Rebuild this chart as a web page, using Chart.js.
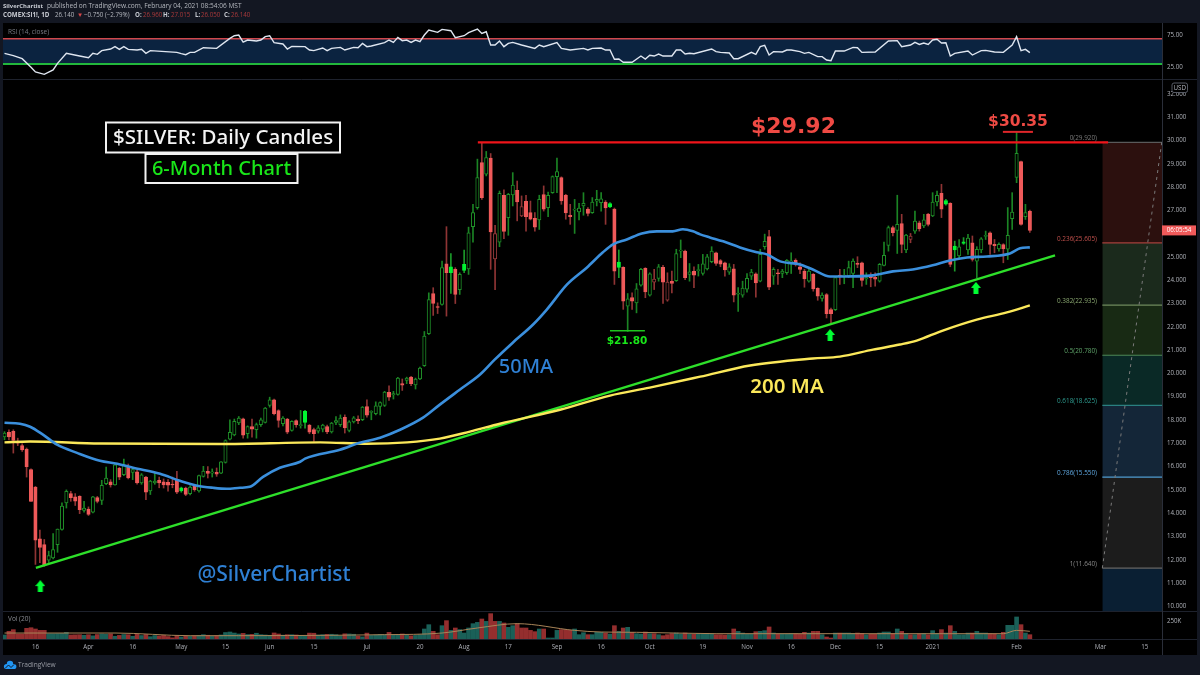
<!DOCTYPE html>
<html><head><meta charset="utf-8"><style>html,body{margin:0;padding:0;background:#131722}canvas{display:block}</style>
<script src="https://cdn.jsdelivr.net/npm/chart.js@4/dist/chart.umd.js"></script></head><body>
<canvas id="c" width="1200" height="675" style="width:1200px;height:675px"></canvas>
<script>
const opens=[17.27,17.47,17.51,17.06,16.9,16.75,15.87,15.12,12.9,12.65,
11.98,12.08,12.65,13.3,14.44,14.84,14.7,14.72,14.12,14.18,
14.04,14.67,14.55,15.27,15.35,15.21,15.92,15.65,16.01,15.75,
15.78,15.3,15.55,14.95,15.3,15.41,15.35,15.32,15.24,15.41,
14.95,15.08,14.84,15.15,14.95,15.58,15.8,15.72,15.75,15.72,
16.18,17.18,17.36,17.87,18.05,17.41,17.72,17.58,17.8,17.9,
18.63,18.87,18.4,17.84,18.04,17.55,17.97,17.76,17.9,17.78,
17.59,17.52,17.61,17.72,17.49,17.9,17.8,18.12,17.55,17.92,
18.04,18.01,18.58,18.33,18.27,18.58,18.63,19.19,19.08,19.1,
19.56,19.7,19.84,19.51,19.76,20.33,21.71,23.43,22.86,22.96,
24.71,24.32,24.47,23.6,24.42,24.49,26.3,27.12,29.05,28.55,
29.24,26.0,25.64,27.65,26.69,27.66,27.86,27.16,27.39,26.9,
26.66,26.59,27.68,27.12,27.76,28.45,28.41,27.65,26.79,27.01,
26.93,27.19,27.05,26.9,27.39,27.33,27.36,27.15,27.05,24.55,
24.55,22.89,23.26,23.03,23.79,24.51,23.36,24.05,24.08,24.55,
23.92,23.95,23.98,25.25,25.25,24.25,24.38,24.41,24.29,24.49,
24.8,25.18,24.84,24.75,24.35,24.49,23.4,23.36,23.62,24.18,
24.28,23.96,25.44,25.87,24.18,24.32,24.29,24.32,24.79,24.86,
24.58,24.39,23.96,24.25,23.65,23.22,23.39,22.74,22.74,24.22,
24.18,24.18,24.29,24.72,24.75,24.06,24.18,24.13,23.96,24.64,
25.5,26.26,26.14,26.43,25.3,25.9,26.11,26.47,26.33,26.84,
26.76,27.36,27.73,27.27,27.3,25.3,25.04,25.58,25.3,25.61,
24.82,25.3,25.88,26.04,25.54,25.35,25.53,25.33,26.64,28.41,
29.09,26.73,26.96];
const highs=[17.5,17.58,17.58,17.22,16.98,16.8,15.9,15.15,13.27,12.87,
12.37,13.12,13.32,14.44,15.0,14.94,14.84,14.75,14.51,14.27,
14.72,14.72,15.41,15.98,15.44,16.11,15.97,16.32,16.11,15.94,
15.84,15.7,15.58,15.41,15.72,15.55,15.47,15.44,15.55,15.8,
15.12,15.12,15.18,15.22,15.64,16.01,16.0,15.9,15.94,16.22,
17.15,18.01,18.04,18.15,18.08,17.75,18.04,17.87,18.08,18.54,
18.98,18.9,18.44,18.15,18.07,17.97,18.01,18.41,18.41,17.81,
17.65,17.76,17.82,17.78,17.9,18.15,18.22,18.22,17.97,18.15,
18.18,18.58,18.87,18.4,18.78,18.78,19.23,19.47,19.23,19.83,
19.76,19.84,19.87,19.8,20.27,21.8,23.46,23.68,23.03,24.82,
26.3,25.14,24.54,24.32,25.3,26.28,27.26,29.2,29.92,29.53,
29.44,26.36,27.83,27.88,27.73,28.62,28.26,27.62,27.65,27.4,
26.9,27.65,28.05,27.79,28.48,29.24,28.44,27.69,27.26,27.47,
27.3,27.76,27.12,27.55,27.86,27.76,27.42,27.33,27.1,25.3,
24.58,23.43,23.46,23.86,24.51,24.54,24.32,24.47,24.68,24.64,
24.32,24.39,25.33,25.73,25.3,24.72,24.58,24.68,25.11,25.11,
25.44,25.21,24.89,24.78,24.71,24.68,23.68,23.96,24.29,24.47,
24.32,25.33,25.98,26.14,24.54,24.47,24.47,24.89,25.18,24.92,
24.75,24.47,24.49,24.29,23.68,23.46,23.43,22.81,24.13,24.47,
24.47,24.82,24.92,25.01,24.78,24.32,24.32,24.32,24.72,25.64,
26.33,26.33,27.65,26.83,25.97,26.01,26.97,26.54,26.83,26.87,
27.76,27.83,28.12,27.47,27.33,25.68,25.75,25.83,25.97,25.9,
25.44,25.83,26.11,26.08,25.75,25.61,25.57,27.12,27.76,30.35,
29.12,27.26,27.015];
const lows=[17.15,17.15,16.58,16.9,16.65,15.55,14.5,11.8,11.87,11.72,
11.86,12.04,12.32,13.27,14.22,14.51,14.33,13.98,14.04,13.9,
14.01,14.44,14.37,15.22,15.12,15.2,15.44,15.61,15.47,15.44,
15.24,15.24,14.58,14.8,15.24,15.09,15.08,14.94,15.09,14.84,
14.9,14.75,14.78,14.94,14.9,15.55,15.51,15.55,15.58,15.7,
16.15,17.15,17.32,17.8,17.22,17.22,17.26,17.22,17.72,17.87,
18.55,18.22,17.69,17.75,17.41,17.52,17.69,17.65,17.65,17.41,
17.08,17.44,17.49,17.41,17.44,17.8,17.72,17.44,17.49,17.87,
17.84,17.97,18.12,18.01,18.22,18.22,18.58,18.84,18.9,19.07,
19.27,19.56,19.47,19.33,19.73,20.3,21.67,22.49,22.57,22.93,
22.46,23.43,23.0,23.39,24.32,24.25,25.64,27.05,27.47,28.48,
24.47,23.6,25.44,25.78,25.93,27.19,26.55,26.73,26.11,26.59,
26.11,26.18,26.97,26.73,27.73,27.76,27.26,26.62,26.4,26.01,
26.59,26.79,26.76,26.87,27.19,26.97,26.4,27.12,23.82,24.11,
22.75,21.8,22.75,22.6,23.75,23.25,23.32,23.6,23.96,23.0,
23.1,23.46,23.95,24.97,24.03,23.96,23.68,24.18,24.22,24.44,
24.75,24.64,24.58,24.18,24.25,23.07,22.66,23.27,23.49,24.03,
23.27,23.93,25.33,23.6,23.82,23.82,24.11,24.25,24.29,24.61,
24.28,23.7,23.92,23.53,23.14,23.1,22.38,22.14,22.7,23.82,
23.85,24.11,23.68,24.54,23.75,23.82,23.72,23.75,23.92,24.61,
25.25,25.9,25.15,25.18,25.18,25.61,26.01,26.11,26.26,26.33,
26.73,27.19,26.69,27.22,24.58,24.39,24.97,25.54,25.11,24.82,
24.11,25.18,25.75,25.11,25.18,25.25,24.75,24.89,26.18,28.19,
26.36,26.61,26.05];
const closes=[17.44,17.27,17.12,17.0,16.72,16.0,14.5,12.84,12.53,11.75,
12.18,12.44,13.32,14.3,14.94,14.67,14.52,14.15,14.22,13.95,
14.7,14.5,15.2,15.51,15.21,16.08,15.55,16.08,15.51,15.87,
15.3,15.65,14.9,15.38,15.38,15.3,15.21,15.2,15.21,14.9,
15.09,14.81,15.12,15.01,15.61,15.81,15.71,15.78,15.67,16.2,
17.12,17.47,17.94,18.08,17.35,17.72,17.61,17.8,18.01,18.51,
18.87,18.27,17.98,18.08,17.48,17.94,17.8,17.8,18.37,17.48,
17.41,17.66,17.78,17.49,17.87,17.97,18.08,17.66,17.92,18.09,
17.97,18.55,18.21,18.37,18.61,18.75,19.2,18.98,19.13,19.8,
19.5,19.8,19.56,19.76,20.23,21.6,23.17,23.0,22.83,24.54,
24.32,24.58,23.39,24.25,24.68,26.04,26.9,28.41,27.55,29.27,
26.07,24.92,27.73,26.1,27.69,28.09,27.36,26.76,26.73,26.62,
26.28,27.47,27.05,27.65,28.45,28.67,27.41,26.89,26.73,27.05,
27.1,27.3,26.87,27.36,27.47,27.5,27.1,27.29,24.39,24.78,
23.1,23.2,23.1,23.63,24.47,23.5,24.28,23.92,24.58,23.92,
23.15,23.86,25.14,25.3,24.11,24.36,24.22,24.44,24.71,25.01,
25.25,24.72,24.69,24.44,24.58,23.36,23.43,23.66,24.08,24.35,
23.89,25.11,25.67,23.7,24.47,24.28,24.39,24.85,24.82,24.69,
24.47,24.06,24.39,23.63,23.32,23.36,22.57,22.56,24.11,24.15,
24.22,24.54,24.82,24.68,23.99,24.11,24.11,24.05,24.68,25.07,
26.26,26.04,26.4,25.54,25.94,25.75,26.54,26.21,26.59,26.4,
27.36,27.65,27.05,27.42,24.68,25.47,25.44,25.65,25.81,24.89,
25.33,25.78,25.93,25.54,25.48,25.54,25.35,25.93,26.93,29.45,
26.4,26.9,26.14];
const brightCandles=[40,68,101,104,137,139,213,215,217];
const hollowRedCandles=[111,117,147,150,205];
const volumesK=[56,107,130,70,70,148,157,139,120,120,74,74,76,78,92,56,58,60,52,60,
44,62,70,66,70,38,50,62,60,38,64,48,62,32,48,42,50,34,16,44,
28,40,36,44,50,60,52,40,46,56,90,97,83,70,78,62,64,80,60,56,
52,84,70,54,60,60,56,48,46,82,80,56,60,64,66,60,44,72,70,66,
40,30,82,50,56,64,60,92,56,56,70,54,44,50,60,139,199,106,60,185,
255,120,153,130,83,153,213,231,278,245,352,245,245,222,162,185,213,153,153,120,
102,139,139,14,14,120,130,130,120,139,60,88,60,60,93,93,83,69,185,106,
153,162,93,74,69,97,74,74,60,46,60,74,83,69,83,69,65,74,69,79,
69,60,60,56,60,139,106,83,65,65,102,106,116,167,83,69,69,69,74,74,
69,93,83,106,106,60,28,14,83,83,83,83,79,83,79,60,65,65,83,97,
97,74,139,106,74,60,60,69,74,60,116,74,130,83,185,106,60,60,83,83,
106,83,83,74,69,60,93,190,190,306,199,83,60];
const volMaIdx=[0,25,42,86,99,107,116,129,135,143,161,187,213,226,229,232];
const volMaK=[83,83,46,60,83,153,213,120,97,93,74,74,74,74,120,107];
const rsiIdx=[0,2,4,6,7,9,11,12,14,17,19,20,21,22,24,25,26,27,28,30,31,32,33,39,40,41,42,43,45,48,51,52,53,54,55,57,58,59,60,61,63,64,65,68,69,70,72,73,74,76,77,79,80,81,82,83,86,87,88,89,90,91,92,93,94,95,96,98,99,101,102,104,105,107,108,109,110,111,112,113,114,115,117,120,121,122,125,126,128,131,132,133,135,136,137,138,139,140,142,144,145,146,147,148,149,151,152,153,154,155,156,160,161,162,164,165,166,169,170,171,172,173,174,176,177,178,180,181,182,184,185,186,187,188,190,192,193,194,197,200,202,203,205,206,207,208,209,210,211,212,213,214,215,218,219,221,222,224,226,228,229,230,231,232];
const rsiVal=[46.9,43.2,38.4,24.8,17.4,13.7,20.6,31.1,46.9,42.6,40,46.9,45.3,51.1,53.7,57.4,53.2,57.4,53.2,52.1,53.2,46.9,51.1,48.4,46.3,44.8,48.4,48.4,55.8,54.7,70.5,74.7,75.8,64.7,67.9,66.3,67.9,73.2,74.7,63.7,61.6,53.7,57.9,57.4,52.1,51.1,55.3,51.1,54.7,56.3,52.1,56.3,55.8,62.6,57.4,58.4,63.7,67.9,64.2,72.1,66.9,67.9,64.2,67.9,65.5,75.8,83.7,80,84.7,82.6,71.6,74.7,79.5,85.3,78.4,81,60,60,66.3,57.4,62.6,64.2,60,54.7,60,57.4,63.7,54.7,52.1,54.7,52.1,54.7,55.3,52.1,52.1,37.4,37.9,32.7,32.7,42.6,37.9,43.7,42.6,45.8,42.6,42.6,52.1,52.1,45.8,46.9,46.3,53.7,49.5,48.4,47.4,38.4,38.4,48.4,45.3,57.4,59.5,44.2,49.5,49,52.1,52.1,49.5,46.9,48.4,41.6,41.6,36.3,35.3,50.5,50.5,56.3,55.8,48.4,49,66.3,66.9,57.4,60,64.2,61,63.2,61,67.9,69,63.2,63.7,42.6,46.9,50.5,44.2,51.1,51.6,49,48.4,60,73.2,51.1,53.2,48];
const ma50Idx=[0,3.5,5.8,8.7,11.9,16.4,21.6,25.5,29.1,35.2,39.7,43.6,47.2,50.3,53.3,55.5,58.5,62.3,66.9,68,75.9,80.4,85,89.5,94.7,98.5,103,107.6,110.9,115,119.6,122.7,127.3,131.8,135.4,137.7,140.8,144.2,147.6,151.2,153.5,155.8,157.4,159.6,162.6,166.4,170.2,172.5,175.5,180,182.9,186.8,189.7,196.5,201,205.5,210,213.9,217.8,222.3,227.5,229.8,232];
const ma50Val=[17.88,17.84,17.71,17.37,16.94,16.59,16.25,16.12,15.95,15.69,15.39,15.18,15.09,15.05,15.09,15.13,15.56,15.95,16.21,16.34,16.72,17.02,17.24,17.58,18.1,18.66,19.3,19.95,20.59,21.32,22.1,22.74,23.82,24.55,25.2,25.54,25.75,26.01,26.1,26.1,26.19,26.1,25.97,25.84,25.67,25.41,25.2,25.11,24.81,24.68,24.46,24.16,24.16,24.21,24.38,24.46,24.64,24.85,24.98,25.02,25.15,25.37,25.41];
const ma200Idx=[0,5.8,21.6,48.8,71.4,82,91.1,98.5,105.3,112.1,125.7,137,146,157.4,168.7,182.9,189,196.5,202.6,206.4,212.3,220,226.8,232];
const ma200Val=[17.04,17.08,16.99,16.97,17.04,16.98,17.04,17.2,17.5,17.84,18.44,19.05,19.39,19.86,20.34,20.64,20.72,21.02,21.24,21.41,21.84,22.31,22.62,22.92];
const trendIdx=[7.1,237.7];
const trendVal=[11.65,25.07];
const resistanceIdx=[107.1,249.7];
const resistanceVal=[29.92,29.92];
const highMarkIdx=[225.9,232.7];
const highMarkVal=[30.37,30.37];
const lowMarkIdx=[137,144.9];
const lowMarkVal=[21.83,21.83];
const arrowIdx=[8.1,186.8,219.8];
const arrowVal=[10.87,21.65,23.67];
const fibLevels=[29.92,25.605,22.935,20.78,18.625,15.55,11.64];
const fibNames=["0","0.236","0.382","0.5","0.618","0.786","1"];
const fibStartIdx=248.4;
const rsiBounds=[30,70];
const priceTicks=[10,11,12,13,14,15,16,17,18,19,20,21,22,23,24,25,26,27,28,29,30,31,32];
const rsiTicks=[25,75];
const volTicks=[250];
const timeIdx=[7,19,29,40,50,60,70,82,94,104,114,125,135,146,158,168,178,188,198,210,229,248,258];
const timeLabels=["16","Apr","16","May","15","Jun","15","Jul","20","Aug","17","Sep","16","Oct","19","Nov","16","Dec","15","2021","Feb","Mar","15"];

const X_MIN=-0.34,X_MAX=261.9;
const FONT='"Open Sans"';
const n=opens.length;
const isUp=i=>closes[i]>=opens[i];
const pts=(xs,ys)=>xs.map((x,i)=>({x,y:ys[i]}));
const idx=[...Array(n).keys()];
function line(data,yAxisID,color,width,order,extra){
  return Object.assign({type:'line',data,yAxisID,xAxisID:'x',borderColor:color,borderWidth:width,pointRadius:0,order,fill:false,tension:0},extra||{});
}
const arrow=document.createElement('canvas');arrow.width=10;arrow.height=12;
(()=>{const a=arrow.getContext('2d');a.fillStyle='#00ff33';a.beginPath();a.moveTo(5,0);a.lineTo(10,6);a.lineTo(7.5,6);a.lineTo(7.5,12);a.lineTo(2.5,12);a.lineTo(2.5,6);a.lineTo(0,6);a.closePath();a.fill();})();

const fibFills=['#2c100e','#1b2a1c','#182a14','#0a2926','#142638','#1c1c1c','#0a1f33'];
const fibLines=['#5a5a5a','#a8403c','#6f8a5c','#4e8a58','#2a8080','#4f9bd0','#666'];
const fibText=['#7a7a7a','#c0504c','#8aa870','#5fa56a','#2e9c90','#5fa8e0','#888'];
const fibDs=[];
fibLevels.forEach((lv,i)=>{
  const low=i<fibLevels.length-1?fibLevels[i+1]:9.8;
  fibDs.push(line(pts([fibStartIdx,X_MAX],[lv,lv]),'y',fibFills[i],0,30,{fill:{value:low},backgroundColor:fibFills[i]}));
});
fibLevels.forEach((lv,i)=>{fibDs.push(line(pts([fibStartIdx,X_MAX],[lv,lv]),'y',fibLines[i],1.2,29));});

const data={datasets:[
  line(pts([X_MIN,X_MAX],[rsiBounds[1],rsiBounds[1]]),'yRsi','#d0484c',1.6,6,{fill:{value:rsiBounds[0]},backgroundColor:'#0b2340'}),
  line(pts([X_MIN,X_MAX],[rsiBounds[0],rsiBounds[0]]),'yRsi','#22b83c',1.8,5),
  line(pts(rsiIdx,rsiVal),'yRsi','#dfe6f0',1.4,4),
  ...fibDs,
  line(pts([fibStartIdx,X_MAX],[fibLevels[6],30]),'y','#7a7a7a',1,28,{borderDash:[3,4]}),
  {type:'bar',label:'wicks',yAxisID:'y',xAxisID:'x',order:20,barThickness:1,grouped:false,
    data:idx.map(i=>({x:i,y:[lows[i],highs[i]]})),
    backgroundColor:idx.map(i=>isUp(i)?(brightCandles.includes(i)?'#1c9a2a':'#1b8424'):'#8f3434')},
  {type:'bar',label:'bodies',yAxisID:'y',xAxisID:'x',order:19,barThickness:3.4,grouped:false,minBarLength:1,borderSkipped:false,borderWidth:1,
    data:idx.map(i=>({x:i,y:[opens[i],closes[i]]})),
    backgroundColor:idx.map(i=>brightCandles.includes(i)?'#00f531':hollowRedCandles.includes(i)?'#000':isUp(i)?'#000':'#ef5a5a'),
    borderColor:idx.map(i=>brightCandles.includes(i)?'#00f531':hollowRedCandles.includes(i)?'#93393a':isUp(i)?'#1f8f28':'#ef5a5a')},
  line(pts(trendIdx,trendVal),'y','#2ee02a',2.4,12),
  line(pts(ma200Idx,ma200Val),'y','#fbe85a',2.4,11,{cubicInterpolationMode:'monotone'}),
  line(pts(ma50Idx,ma50Val),'y','#3b8fdc',2.6,10,{cubicInterpolationMode:'monotone'}),
  line(pts(resistanceIdx,resistanceVal),'y','#f0141a',2.4,9),
  line(pts(highMarkIdx,highMarkVal),'y','#e0262a',2,9),
  line(pts(lowMarkIdx,lowMarkVal),'y','#1fc41f',1.6,9),
  {type:'scatter',data:pts(arrowIdx,arrowVal),yAxisID:'y',xAxisID:'x',pointStyle:arrow,pointRadius:6,order:8},
  {type:'bar',label:'volume',yAxisID:'yVol',xAxisID:'x',order:3,barThickness:4,grouped:false,
    data:idx.map(i=>({x:i,y:volumesK[i]})),
    backgroundColor:idx.map(i=>isUp(i)?'#1a6058':'#942e2e')},
  line(pts(volMaIdx,volMaK),'yVol','#a88458',1,2,{cubicInterpolationMode:'monotone'})
]};

const tickStyle={color:'#aeb1b8',font:{family:FONT,size:6.2},padding:5,autoSkip:false,maxRotation:0,minRotation:0};
function yScale(stackWeight,min,max,list,fmt){
  return {type:'linear',position:'right',stack:'panes',stackWeight,min,max,offset:false,
    grid:{display:false,drawTicks:false},border:{display:false},
    afterFit(s){s.width=35;s.paddingTop=0;s.paddingBottom=0;},
    afterBuildTicks(s){s.ticks=list.map(v=>({value:v}));},
    ticks:Object.assign({},tickStyle,{callback:fmt})};
}

function txt(ctx,s,x,y,font,color,align){ctx.font=font;ctx.fillStyle=color;ctx.textAlign=align||'left';ctx.textBaseline='middle';ctx.fillText(s,x,y);}

const paint={
  id:'paint',
  afterLayout(c){
    const a=c.chartArea,x=c.scales.x;
    a.left=3;a.width=a.right-3;
    x.left=3;x.right=a.right;x.width=a.right-3;x.configure();
  },
  beforeDraw(c){
    const g=c.ctx;g.save();
    g.fillStyle='#131722';g.fillRect(0,0,1200,675);
    g.fillStyle='#000';g.fillRect(3,23,1194,632);
    g.restore();
  },
  afterDraw(c){
    const g=c.ctx,a=c.chartArea,ys=c.scales.y;
    g.save();
    g.strokeStyle='#1e222d';g.lineWidth=1;
    [79.5,611.5,639.5].forEach(y=>{g.beginPath();g.moveTo(3,y);g.lineTo(1197,y);g.stroke();});
    g.strokeStyle='#2a2e39';g.beginPath();g.moveTo(a.right+.5,23);g.lineTo(a.right+.5,655);g.stroke();

    const small=`6.2px ${FONT}`,bold=`bold 6.2px ${FONT}`,w='#c8cbd2',r='#a8393b';
    txt(g,'SilverChartist',3,6,`bold 5.9px ${FONT}`,w);
    txt(g,'published on TradingView.com, February 04, 2021 08:54:06 MST',47,6,`6.55px ${FONT}`,'#b4b7be');
    txt(g,'COMEX:SI1!, 1D',3,15.5,bold,w);
    txt(g,'26.140',55,15.5,small,'#b4b7be');
    txt(g,'\u25BC',77,15.5,small,'#d8484a');
    txt(g,'\u22120.750 (\u22122.79%)',84,15.5,small,'#b4b7be');
    txt(g,'O:',135,15.5,bold,w);txt(g,'26.960',143,15.5,small,r);
    txt(g,'H:',163,15.5,bold,w);txt(g,'27.015',171,15.5,small,r);
    txt(g,'L:',195,15.5,bold,w);txt(g,'26.050',201,15.5,small,r);
    txt(g,'C:',224,15.5,bold,w);txt(g,'26.140',231,15.5,small,r);
    txt(g,'RSI (14, close)',8,32,`6.5px ${FONT}`,'#777b84');
    txt(g,'Vol (20)',8,619,`6.5px ${FONT}`,'#8a8d94');

    g.strokeStyle='#f2f2f2';g.lineWidth=2;
    g.strokeRect(106,122.5,234,30);g.strokeRect(145.5,154,152,29);
    txt(g,'$SILVER: Daily Candles',223,138,`500 20.5px "Noto Sans"`,'#f4f4f4','center');
    txt(g,'6-Month Chart',221.5,169,`500 20px "Noto Sans"`,'#19e619','center');

    txt(g,'$29.92',793.5,127,`bold 22px "DejaVu Sans"`,'#ef4a44','center');
    txt(g,'$30.35',1018,122,`bold 15.5px "DejaVu Sans"`,'#ef4a44','center');
    txt(g,'$21.80',627,341,`bold 10.5px "DejaVu Sans"`,'#19e619','center');
    txt(g,'50MA',526,367,`500 20px "Noto Sans"`,'#2f80d4','center');
    txt(g,'200 MA',787,387,`600 20.5px "Noto Sans"`,'#fbe85a','center');
    txt(g,'@SilverChartist',274,575,`500 21px "Noto Sans"`,'#2f80d4','center');

    fibLevels.forEach((lv,i)=>{
      txt(g,`${fibNames[i]}(${lv.toFixed(3)})`,1097,ys.getPixelForValue(lv)-4,`6.4px ${FONT}`,fibText[i],'right');
    });

    const tagY=ys.getPixelForValue(closes[n-1]);
    g.fillStyle='#f05a5a';g.fillRect(a.right,tagY-5,34,10);
    txt(g,'06:05:54',1179,tagY,small,'#fff','center');

    g.strokeStyle='#555963';g.lineWidth=1;g.fillStyle='#000';
    g.beginPath();g.roundRect(1172,83,15.5,9.5,2);g.fill();g.stroke();
    txt(g,'USD',1179.8,88,small,'#b4b7be','center');

    g.fillStyle='#2196f3';
    g.beginPath();g.arc(6.5,666.5,2.6,Math.PI*.5,Math.PI*1.5);g.arc(10,664,3.2,Math.PI,Math.PI*2);g.arc(13.8,666.5,2.6,Math.PI*1.5,Math.PI*.5);g.closePath();g.fill();
    g.strokeStyle='#131722';g.lineWidth=1;g.beginPath();g.moveTo(5,668.5);g.lineTo(8.5,665);g.lineTo(11,667.5);g.lineTo(14,664.5);g.stroke();
    txt(g,'TradingView',18,665,`6.6px ${FONT}`,'#9a9da5');
    g.restore();
  }
};

new Chart(document.getElementById('c'),{
  type:'bar',data,plugins:[paint],
  options:{responsive:false,animation:false,devicePixelRatio:1,
    layout:{padding:{left:3,right:3,top:23,bottom:20}},
    plugins:{legend:{display:false},tooltip:{enabled:false}},
    events:[],
    scales:{
      x:{type:'linear',position:'bottom',min:X_MIN,max:X_MAX,offset:false,
        grid:{display:false,drawTicks:false,offset:false},border:{display:false},
        afterFit(s){s.height=16;s.paddingLeft=0;s.paddingRight=0;},
        afterBuildTicks(s){s.ticks=timeIdx.map(v=>({value:v}));},
        ticks:Object.assign({},tickStyle,{padding:5,callback:(v)=>timeLabels[timeIdx.indexOf(v)]})},
      yRsi:yScale(56,6.3,94.8,rsiTicks,v=>v.toFixed(2)),
      y:yScale(532,9.8,32.64,priceTicks,v=>v.toFixed(3)),
      yVol:yScale(28,0,389,volTicks,v=>v+'K')
    }
  }
});
</script></body></html>
